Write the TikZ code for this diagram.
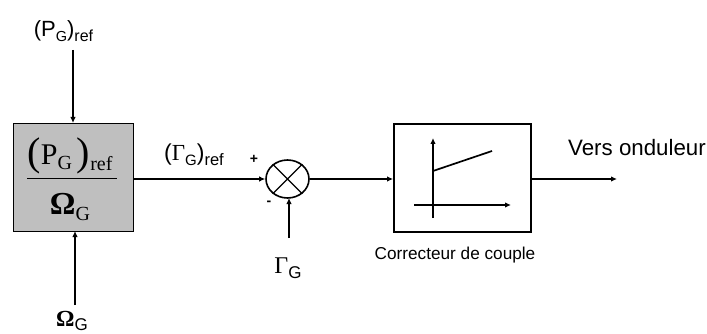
\documentclass[tikz,border=0pt]{standalone}
\usepackage{fontspec}
\setmainfont{Liberation Sans}
\newfontfamily\serifname{Liberation Serif}
\usetikzlibrary{arrows.meta,shapes.geometric}
\newcommand{\sz}[1]{\fontsize{#1}{#1}\selectfont}
\newcommand{\lowr}[3]{\raisebox{-#1pt}{\sz{#2}#3}}
\newcommand{\GammaSym}{{\serifname Γ}}
\newcommand{\OmegaSym}{{\serifname\bfseries Ω}}
\tikzset{
  x=1pt,y=-1pt,
  wire/.style={line width=1.7pt,draw=black},
  arr/.style={wire,-{Latex[length=6pt,width=5.5pt]}},
  lab/.style={inner sep=0pt,text=black},
}
\begin{document}
\begin{tikzpicture}
\useasboundingbox (0,0) rectangle (707,334);
\node[draw=black,line width=0.8pt,fill=black!25,minimum width=119.5pt,minimum height=108pt,inner sep=0pt] (calc) at (73.2,177) {};
\node[draw=black,line width=1.8pt,fill=white,minimum width=137pt,minimum height=108pt,inner sep=0pt] (corr) at (462.5,178) {};
\node[draw=black,line width=1.6pt,ellipse,minimum width=43pt,minimum height=38pt,inner sep=0pt] (sum) at (287.5,179) {};
\draw[line width=1.3pt] (sum.45) -- (sum.225) (sum.135) -- (sum.315);

\node[lab,font=\sz{22}] (pref) at (63.5,31) {(P\lowr{5}{14.5}{G})\lowr{5}{16}{ref}};
\node[lab,font=\sz{23}] (gref) at (194,155) {(\GammaSym\lowr{5}{15}{G})\lowr{5}{16.5}{ref}};
\node[lab,font=\sz{23}] (omg) at (72,321) {\OmegaSym\lowr{4}{17}{G}};
\node[lab,font=\sz{24}] (gam) at (288,268) {\GammaSym\lowr{5}{17}{G}};
\node[lab,font=\sz{22.3}] (vers) at (637,148) {Vers onduleur};
\node[lab,font=\sz{17.2}] (clab) at (455,255) {Correcteur de couple};
\node[lab,font=\bfseries\sz{14}] (plus) at (254,159) {+};
\node[lab,font=\bfseries\sz{14}] (minus) at (269,203) {-};

\node[lab,font=\serifname\sz{30}] (num) at (70,156) {\raisebox{-1pt}{\sz{40}(}P\lowr{5}{20}{G}\,\raisebox{-1pt}{\sz{40})}\lowr{6}{20}{ref}};
\node[lab,font=\serifname\sz{32}] (den) at (70,207) {{\bfseries Ω}\lowr{6}{20}{G}};
\draw[line width=0.9pt] (27,178.5) -- (117,178.5);

\coordinate (ptop) at (73,50);
\coordinate (pend) at (73,123);
\coordinate (otop) at (75,305);
\coordinate (oend) at (75,231);
\coordinate (gtop) at (289,238);
\coordinate (gend) at (289,198);
\coordinate (outend) at (617,179);
\draw[arr] (ptop) -- (pend);
\draw[arr] (otop) -- (oend);
\draw[arr] (calc.east |- sum.west) -- (sum.west);
\draw[arr] (sum.east) -- (corr.west |- sum.east);
\draw[arr] (gtop) -- (gend);
\draw[arr] (corr.east |- outend) -- (outend);

\coordinate (ya) at (433,218);
\coordinate (yb) at (433,138);
\coordinate (xa) at (414,205);
\coordinate (xb) at (511,205);
\coordinate (sa) at (433,171);
\coordinate (sb) at (492,151);
\draw[arr] (ya) -- (yb);
\draw[arr] (xa) -- (xb);
\draw[wire] (sa) -- (sb);
\end{tikzpicture}
\end{document}
